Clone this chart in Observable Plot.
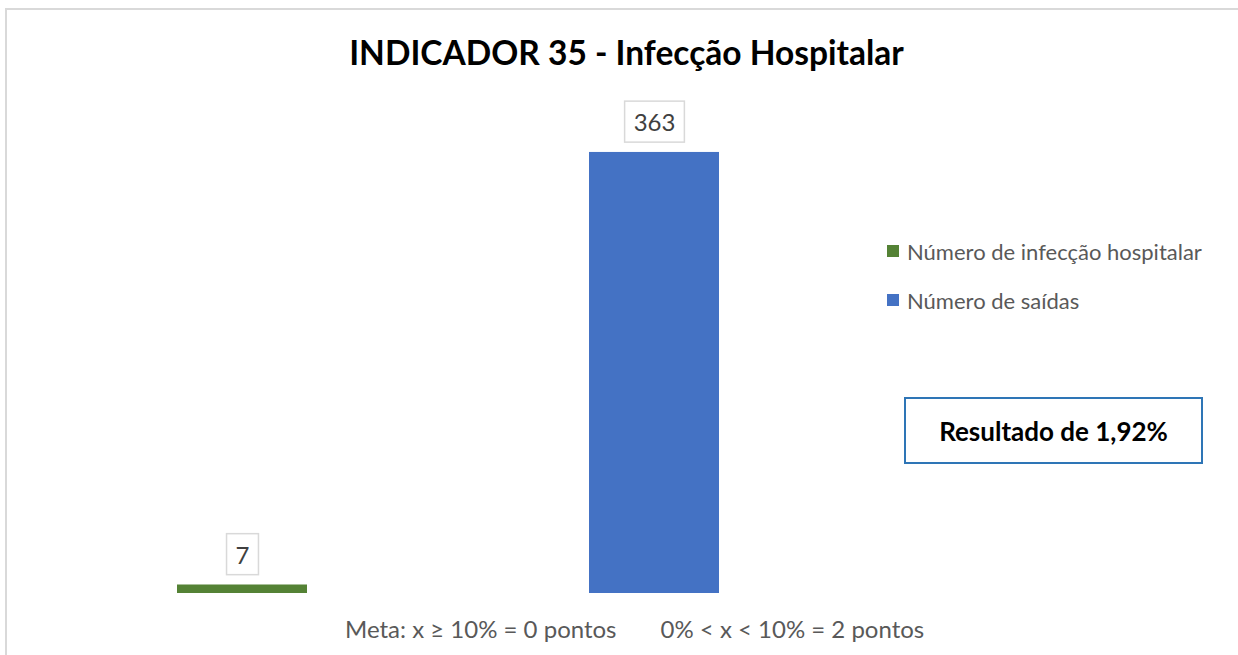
<!DOCTYPE html>
<html>
<head>
<meta charset="utf-8">
<script src="https://cdn.jsdelivr.net/npm/d3@7"></script>
<script src="https://cdn.jsdelivr.net/npm/@observablehq/plot@0.6"></script>
<style>
  html, body { margin: 0; padding: 0; background: #fff; }
  #wrap { position: relative; width: 1238px; height: 655px; overflow: hidden; font-family: Lato, "Open Sans", sans-serif; }
  #frame { position: absolute; left: 5px; top: 8px; width: 1300px; height: 700px; border-top: 2px solid #D9D9D9; border-left: 2px solid #D9D9D9; }
  #title { position: absolute; left: 0; width: 1253px; top: 32px; text-align: center; font-weight: 700; font-size: 33.5px; color: #000; }
  #chart { position: absolute; left: 0; top: 0; }
  #legend { position: absolute; left: 887px; top: 236px; font-size: 22px; color: #595959; }
  .li { display: flex; align-items: center; height: 30px; margin-bottom: 19px; }
  .sw { width: 12px; height: 12px; margin-right: 8px; }
  #result { position: absolute; left: 904px; top: 397px; width: 295px; height: 63px; border: 2px solid #2E75B6; display: flex; align-items: center; justify-content: center; font-weight: 700; font-size: 26px; color: #000; }
  #meta { position: absolute; left: 345px; top: 614px; font-size: 24px; color: #595959; white-space: pre; }
  #meta span { display: inline-block; }
</style>
</head>
<body>
<div id="wrap">
  <div id="frame"></div>
  <div id="chart"></div>
  <div id="title"></div>
  <div id="legend"></div>
  <div id="result"></div>
  <div id="meta"></div>
</div>
<script>
const titleText = "INDICADOR 35 - Infecção Hospitalar";
const series = ["Número de infecção hospitalar", "Número de saídas"];
const values = [7, 363];
const colors = ["#548235", "#4472C4"];
const resultText = "Resultado de 1,92%";
const metaParts = ["Meta: x ≥ 10% = 0 pontos", "0% < x < 10% = 2 pontos"];

const data = series.map((s, i) => ({series: s, value: values[i]}));

const plot = Plot.plot({
  width: 1238,
  height: 655,
  margin: 0,
  x: {type: "band", domain: series, range: [177, 719], paddingInner: 0.6845, paddingOuter: 0, axis: null},
  y: {domain: [0, 400], range: [593, 107], axis: null},
  color: {domain: series, range: colors},
  marks: [
    Plot.barY(data, {x: "series", y: "value", fill: "series"}),
    Plot.text(data, {x: "series", y: "value", text: d => String(d.value), dy: -29, lineAnchor: "middle", fontSize: 24, fill: "#404040", fontFamily: "Lato, sans-serif"})
  ]
});
plot.style.background = "transparent";
document.getElementById("chart").appendChild(plot);

// draw boxes behind value labels
const ns = "http://www.w3.org/2000/svg";
plot.querySelectorAll("text").forEach(t => {
  const b = t.getBBox();
  const padX = 9, h = 41;
  const r = document.createElementNS(ns, "rect");
  const cy = b.y + b.height / 2;
  r.setAttribute("x", b.x - padX);
  r.setAttribute("y", cy - h / 2);
  r.setAttribute("width", b.width + 2 * padX);
  r.setAttribute("height", h);
  r.setAttribute("fill", "#fff");
  r.setAttribute("stroke", "#D9D9D9");
  r.setAttribute("stroke-width", 1.5);
  if (t.transform && t.transform.baseVal.numberOfItems) r.setAttribute("transform", t.getAttribute("transform"));
  t.parentNode.insertBefore(r, t);
});

document.getElementById("title").textContent = titleText;
const leg = document.getElementById("legend");
series.forEach((s, i) => {
  const row = document.createElement("div");
  row.className = "li";
  const sw = document.createElement("span");
  sw.className = "sw";
  sw.style.background = colors[i];
  const tx = document.createElement("span");
  tx.textContent = s;
  row.appendChild(sw); row.appendChild(tx);
  leg.appendChild(row);
});
document.getElementById("result").textContent = resultText;
const meta = document.getElementById("meta");
metaParts.forEach((p, i) => {
  const sp = document.createElement("span");
  sp.textContent = p;
  if (i > 0) sp.style.marginLeft = "44px";
  meta.appendChild(sp);
});
</script>
</body>
</html>
